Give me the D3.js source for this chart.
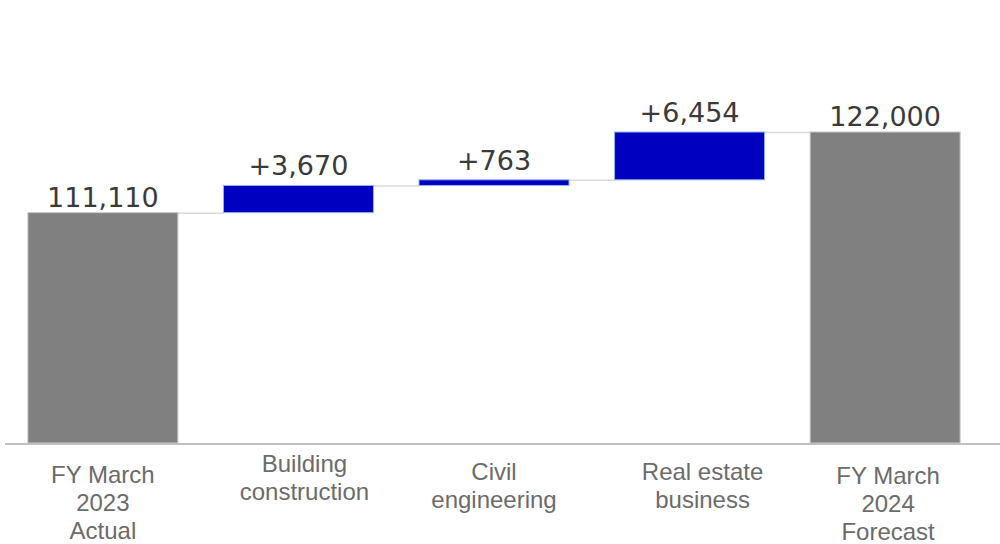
<!DOCTYPE html>
<html>
<head>
<meta charset="utf-8">
<script src="https://cdn.jsdelivr.net/npm/d3@7"></script>
<style>
  body { margin: 0; background: #fff; }
</style>
</head>
<body>
<div id="chart"></div>
<script>
(function () {

// Data
const categories = ["FY March 2023 Actual", "Building construction", "Civil engineering", "Real estate business", "FY March 2024 Forecast"];
const labelLines = [["FY March", "2023", "Actual"], ["Building", "construction"], ["Civil", "engineering"], ["Real estate", "business"], ["FY March", "2024", "Forecast"]];
const values = [111110, 3670, 763, 6454, 122000];
const kinds = ["total", "delta", "delta", "delta", "total"];
const valueLabels = ["111,110", "+3,670", "+763", "+6,454", "122,000"];

// label placement tweaks (first-line baseline below axis, horizontal nudge)
const labelOffsets = [40, 29, 37, 37, 41];
const labelShift = [0, 6, 0, 13, 3];

const width = 1000, height = 544;
const baseY = 443;

const svg = d3.select("#chart").append("svg")
    .attr("width", width)
    .attr("height", height)
    .style("font-family", "Arial, 'Liberation Sans', sans-serif");

// Build waterfall steps
let running = 0;
const steps = values.map((v, i) => {
    let start, end;
    if (kinds[i] === "total") { start = 80000; end = v; running = v; }
    else { start = running; end = running + v; running = end; }
    return { cat: categories[i], start, end, kind: kinds[i], label: valueLabels[i],
             lines: labelLines[i], off: labelOffsets[i], shift: labelShift[i] };
});

const x = d3.scaleBand()
    .domain(categories)
    .range([5, 983])
    .paddingInner(0.233)
    .paddingOuter(0.117);

const y = d3.scaleLinear()
    .domain([80000, 122000])
    .range([baseY, 132]);

// Connectors
steps.slice(0, -1).forEach((d, i) => {
    const next = steps[i + 1];
    svg.append("line")
        .attr("x1", x(d.cat) + x.bandwidth())
        .attr("x2", x(next.cat))
        .attr("y1", y(d.end) + 0.5)
        .attr("y2", y(d.end) + 0.5)
        .attr("stroke", "#d9d9d9")
        .attr("stroke-width", 1.5);
});

// Bars
svg.selectAll(".bar")
    .data(steps)
    .enter()
    .append("rect")
    .attr("class", "bar")
    .attr("x", d => x(d.cat))
    .attr("width", x.bandwidth())
    .attr("y", d => y(Math.max(d.start, d.end)))
    .attr("height", d => Math.abs(y(d.start) - y(d.end)))
    .attr("fill", d => d.kind === "total" ? "#808080" : "#0000c0")
    .attr("stroke", d => d.kind === "total" ? "#c8c8c8" : "#8db4e2")
    .attr("stroke-width", 1);

// Axis line
svg.append("line")
    .attr("x1", 5)
    .attr("x2", 1000)
    .attr("y1", baseY + 1)
    .attr("y2", baseY + 1)
    .attr("stroke", "#bfbfbf")
    .attr("stroke-width", 2);

// Value labels
svg.selectAll(".value-label")
    .data(steps)
    .enter()
    .append("text")
    .attr("class", "value-label")
    .attr("x", d => x(d.cat) + x.bandwidth() / 2)
    .attr("y", d => y(Math.max(d.start, d.end)) - (d.kind === "total" ? 6 : 10))
    .attr("text-anchor", "middle")
    .style("font-family", "Verdana, 'DejaVu Sans', sans-serif")
    .style("font-size", "27px")
    .style("fill", "#3a3a3a")
    .text(d => d.label);

// Category labels
const catLabels = svg.selectAll(".cat-label")
    .data(steps)
    .enter()
    .append("text")
    .attr("class", "cat-label")
    .attr("text-anchor", "middle")
    .style("font-size", "24px")
    .style("fill", "#6b6b6b");

catLabels.selectAll("tspan")
    .data(d => d.lines.map(t => ({ t, d })))
    .enter()
    .append("tspan")
    .attr("x", o => x(o.d.cat) + x.bandwidth() / 2 + o.d.shift)
    .attr("y", (o, j) => baseY + o.d.off + j * 28)
    .text(o => o.t);

})();
</script>
</body>
</html>
